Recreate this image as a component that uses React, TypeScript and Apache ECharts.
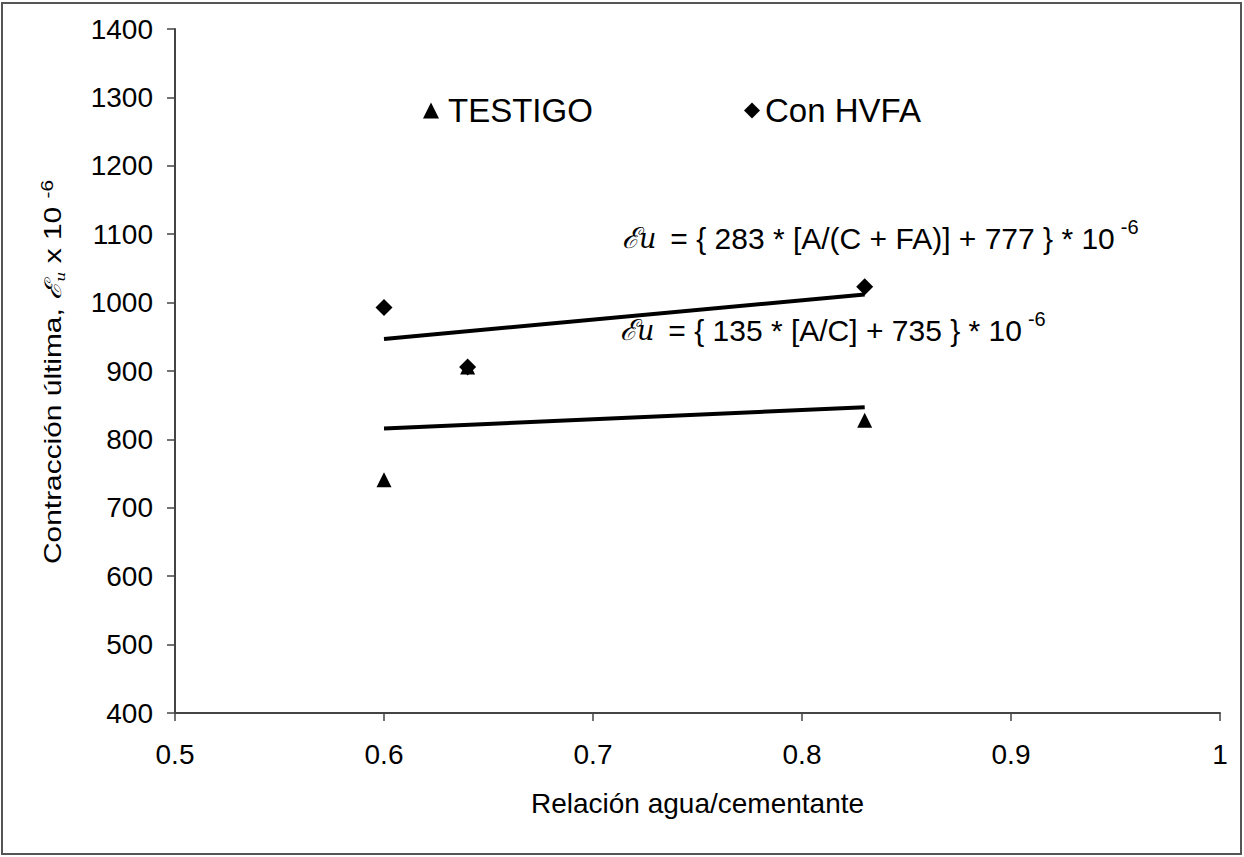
import React, { useEffect, useRef } from "react";
import * as echarts from "echarts";

const xTicks = [0.5, 0.6, 0.7, 0.8, 0.9, 1.0];
const testigoX = [0.6, 0.64, 0.83];
const testigoY = [741, 906, 828];
const hvfaX = [0.6, 0.64, 0.83];
const hvfaY = [993, 906, 1023];
// trend line coefficients (slope, intercept) and x range
const testigoFit = [135, 735];
const hvfaFit = [283, 777];
const fitRange = [0.6, 0.83];
const legendNames = ["TESTIGO", "Con HVFA"];
const eqBodies = [
  ` = { ${hvfaFit[0]} * [A/(C + FA)] + ${hvfaFit[1]} } * 10`,
  ` = { ${testigoFit[0]} * [A/C] + ${testigoFit[1]} } * 10`,
];

const FONT = "'Liberation Sans', Arial, sans-serif";
const SCRIPT = "'DejaVu Serif', serif";

function measure(text: string, font: string) {
  const c = document.createElement("canvas");
  const ctx = c.getContext("2d")!;
  ctx.font = font;
  return ctx.measureText(text).width;
}

export default function App() {
  const ref = useRef<HTMLDivElement>(null);
  useEffect(() => {
    if (!ref.current) return;
    const chart = echarts.init(ref.current, undefined, { renderer: "svg" });
    const pts = (xs: number[], ys: number[]) => xs.map((x, i) => [x, ys[i]]);
    const fit = (c: number[]) => fitRange.map((x) => [x, c[0] * x + c[1]]);

    const eqFont = "30px 'Liberation Sans'";
    const eqGraphic = (sx: number, bodyX: number, cy: number, body: string) => {
      const w = measure(body, eqFont);
      return [
        {
          type: "text",
          x: sx,
          y: cy,
          style: {
            text: "{e|ℰ}{u|u}",
            verticalAlign: "middle",
            rich: {
              e: { fontFamily: SCRIPT, fontStyle: "italic", fontSize: 29, fill: "#000" },
              u: { fontFamily: SCRIPT, fontStyle: "italic", fontSize: 27, fill: "#000" },
            },
          },
        },
        {
          type: "text",
          x: bodyX,
          y: cy,
          style: { text: body, font: eqFont, fill: "#000", verticalAlign: "middle" },
        },
        {
          type: "text",
          x: bodyX + w + 6,
          y: cy - 11,
          style: { text: "-6", font: "20px 'Liberation Sans'", fill: "#000", verticalAlign: "middle" },
        },
      ];
    };

    chart.setOption({
      animation: false,
      backgroundColor: "#fff",
      grid: { left: 175, right: 24, top: 29, bottom: 144 },
      xAxis: {
        type: "value",
        min: xTicks[0],
        max: xTicks[xTicks.length - 1],
        interval: 0.1,
        axisLine: { show: true, lineStyle: { color: "#444", width: 2 } },
        axisTick: { show: true, length: 8, lineStyle: { color: "#444", width: 1.5 } },
        axisLabel: {
          fontFamily: FONT,
          fontSize: 28,
          color: "#000",
          margin: 27,
          formatter: (v: number) => {
            const r = Math.round(v * 10) / 10;
            return r === 1 ? "1" : r.toString();
          },
        },
        splitLine: { show: false },
        name: "Relación agua/cementante",
        nameLocation: "middle",
        nameGap: 76,
        nameTextStyle: { fontFamily: FONT, fontSize: 28, color: "#000" },
      },
      yAxis: {
        type: "value",
        min: 400,
        max: 1400,
        interval: 100,
        axisLine: { show: true, lineStyle: { color: "#444", width: 2 } },
        axisTick: { show: true, length: 8, lineStyle: { color: "#444", width: 1.5 } },
        axisLabel: {
          fontFamily: FONT,
          fontSize: 28,
          color: "#000",
          margin: 22,
          formatter: (v: number) => String(v),
        },
        splitLine: { show: false },
      },
      legend: [
        {
          data: [legendNames[0]],
          left: 418,
          top: 89,
          itemWidth: 16,
          itemHeight: 16,
          textStyle: { fontFamily: FONT, fontSize: 33, color: "#000", padding: [0, 0, 0, 4] },
          selectedMode: false,
        },
        {
          data: [legendNames[1]],
          left: 739,
          top: 89,
          itemWidth: 16,
          itemHeight: 16,
          textStyle: { fontFamily: FONT, fontSize: 33, color: "#000" },
          selectedMode: false,
        },
      ],
      series: [
        {
          name: legendNames[0],
          type: "scatter",
          symbol: "triangle",
          symbolSize: 15,
          itemStyle: { color: "#000", opacity: 1 },
          data: pts(testigoX, testigoY),
          z: 3,
        },
        {
          name: legendNames[1],
          type: "scatter",
          symbol: "diamond",
          symbolSize: 17,
          itemStyle: { color: "#000", opacity: 1 },
          data: pts(hvfaX, hvfaY),
          z: 4,
        },
        {
          name: "fitTestigo",
          type: "line",
          data: fit(testigoFit),
          symbol: "none",
          lineStyle: { color: "#000", width: 4 },
          z: 2,
        },
        {
          name: "fitHvfa",
          type: "line",
          data: fit(hvfaFit),
          symbol: "none",
          lineStyle: { color: "#000", width: 4 },
          z: 2,
        },
      ],
      graphic: [
        {
          type: "rect",
          shape: { x: 2, y: 3, width: 1239, height: 851 },
          style: { fill: "none", stroke: "#555", lineWidth: 2 },
          silent: true,
        },
        ...eqGraphic(622, 662, 238, eqBodies[0]),
        ...eqGraphic(620, 660, 330, eqBodies[1]),
        {
          type: "text",
          x: 53,
          y: 372,
          rotation: Math.PI / 2,
          scaleX: 1.3,
          style: {
            text: "{t|Contracción última, }{sc|ℰ}{sub|u}{t| x 10 }{sup|-6}",
            align: "center",
            verticalAlign: "middle",
            rich: {
              t: { fontFamily: FONT, fontSize: 23, fill: "#000" },
              sc: { fontFamily: SCRIPT, fontStyle: "italic", fontSize: 23, fill: "#000" },
              sub: { fontFamily: SCRIPT, fontStyle: "italic", fontSize: 12, fill: "#000", verticalAlign: "bottom" },
              sup: { fontFamily: FONT, fontSize: 16, fill: "#000", verticalAlign: "top", padding: [0, 0, 12, 0] },
            },
          },
        },
      ],
    });
    return () => chart.dispose();
  }, []);
  return (
    <div
      ref={ref}
      style={{ position: "fixed", left: 0, top: 0, width: 1244, height: 857, background: "#fff" }}
    />
  );
}
